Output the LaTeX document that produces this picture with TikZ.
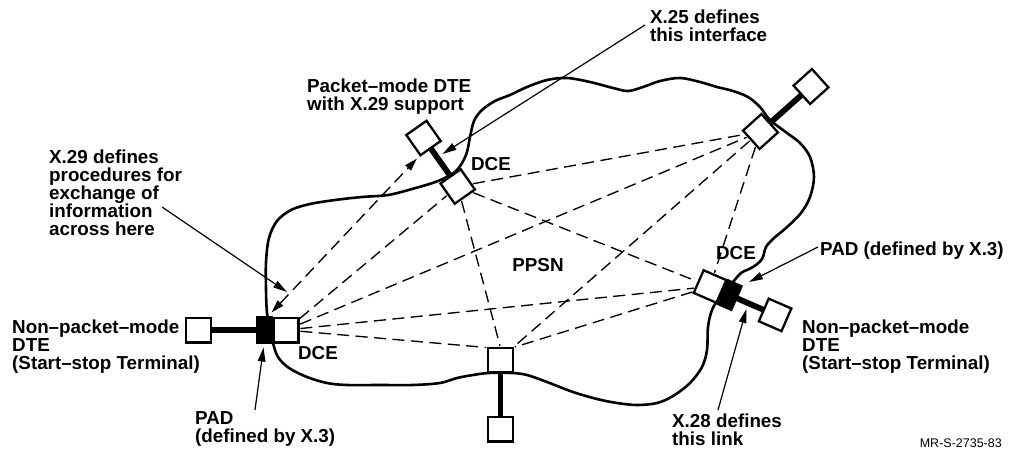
\documentclass[tikz,border=0pt]{standalone}
\usepackage{fontspec}
\setmainfont{Liberation Sans}
\usetikzlibrary{arrows.meta}
\pgfdeclarelayer{bg}
\pgfsetlayers{bg,main}
\begin{document}
\begin{tikzpicture}[x=1pt,y=-1pt,
  box/.style={draw,line width=2.3pt,fill=white,minimum width=24.7pt,minimum height=24.7pt,inner sep=0pt,outer sep=0pt},
  padbox/.style={draw,line width=2.3pt,fill=black,minimum width=14.7pt,minimum height=25.7pt,inner sep=0pt,outer sep=0pt},
  cloudline/.style={line width=2.6pt,line join=round},
  link/.style={line width=5.8pt},
  mesh/.style={line width=1.35pt,dash pattern=on 12pt off 6.5pt,shorten <=2pt,shorten >=2pt},
  lab/.style={font=\fontsize{18.8}{18}\selectfont\bfseries,align=left,inner sep=0pt,anchor=north west},
  dcelab/.style={font=\fontsize{18.8}{18}\selectfont\bfseries,inner sep=0pt,anchor=center},
  ptr/.style={line width=1.2pt,-{Triangle[length=14pt,width=7.5pt]}},
  dptr/.style={line width=1.35pt,dash pattern=on 12pt off 6.5pt,{Triangle[length=13pt,width=7.5pt]}-{Triangle[length=13pt,width=7.5pt]}},
]
\useasboundingbox (0,0) rectangle (1010,452);

% ---- boxes ----
% left group
\node[box] (Ldte) at (198.5,330) {};
\node[padbox] (Lpad) at (264.5,330) {};
\node[box] (Ldce) at (286,330) {};
% top group
\node[box,rotate=35] (Tdte) at (423.5,138) {};
\node[box,rotate=35] (Tdce) at (457.7,186.5) {};
% right top group
\node[box,rotate=42] (RTdce) at (760.5,131.5) {};
\node[box,rotate=42] (RTdte) at (811,86.5) {};
% right bottom group
\node[box,rotate=-23.5] (RBdce) at (710,286.5) {};
\node[padbox,rotate=-23.5] (RBpad) at (729.7,295.1) {};
\node[box,rotate=-23.5] (RBdte) at (775.1,314.9) {};
% middle bottom group
\node[box] (Mdce) at (500.5,360) {};
\node[box] (Mdte) at (500.5,429) {};

\begin{pgfonlayer}{bg}
\draw[cloudline] plot[smooth cycle,tension=0.55] coordinates {
 (267,313) (266,290) (266,262) (269,238) (277,221) (291,210) (310,204) (335,200)
 (362,197) (388,195) (412,189) (438,181) (456,171) (466,155) (470,137) (474,121)
 (482,110) (495,101) (510,95) (527,87) (547,80) (567,78) (590,82) (613,88)
 (628,91) (643,87) (660,81) (680,78) (700,82) (717,87) (733,91) (748,97)
 (760,107) (770,120) (787,133) (800,143) (810,157) (814,177) (810,197) (801,213)
 (786,228) (774,238) (766,247) (762,259) (753,267) (741,273) (733,282) (720,297)
 (712,310) (708,327) (707,350) (702,367) (690,383) (673,396) (657,403) (637,405)
 (617,403) (597,399) (573,392) (547,382) (527,375) (512,373) (489,373) (473,375)
 (457,378) (440,383) (413,385) (380,385) (347,385) (327,383) (307,377) (289,368)
 (278,357) (273,343) (270,328)};
% thick links
\draw[link] (Ldte) -- (Lpad);
\draw[link] (Tdte) -- (Tdce);
\draw[link] (RTdce) -- (RTdte);
\draw[link] (RBpad) -- (RBdte);
\draw[link] (Mdce) -- (Mdte);
% mesh
\draw[mesh] (Ldce) -- (Tdce);
\draw[mesh] (Ldce) -- (RTdce);
\draw[mesh] (Ldce) -- (RBdce);
\draw[mesh] (Ldce) -- (Mdce.north west);
\draw[mesh] (Tdce) -- (RTdce);
\draw[mesh] (Tdce) -- (RBdce);
\draw[mesh] (Tdce) -- (Mdce.north);
\draw[mesh] (RTdce) -- (RBdce);
\draw[mesh] (RTdce) -- (Mdce.north east);
\draw[mesh] (RBdce) -- (Mdce.north east);
\end{pgfonlayer}

% ---- labels ----
\node[lab] (x29) at (49,149.3) {X.29 defines\\procedures for\\exchange of\\information\\across here};
\node[lab] (pmdte) at (307,78.3) {Packet–mode DTE\\with X.29 support};
\node[lab] (x25) at (650,9.3) {X.25 defines\\this interface};
\node[lab] (lnp) at (12,319.3) {Non–packet–mode\\DTE\\(Start–stop Terminal)};
\node[lab] (lpadl) at (195,411.3) {PAD\\(defined by X.3)};
\node[lab] (rpadl) at (820,241.3) {PAD (defined by X.3)};
\node[lab] (rnp) at (802,319.3) {Non–packet–mode\\DTE\\(Start–stop Terminal)};
\node[lab] (x28) at (672,413.3) {X.28 defines\\this link};
\node[dcelab] (dceL) at (318,353) {DCE};
\node[dcelab] (dceT) at (491,164) {DCE};
\node[dcelab] (dceR) at (736,253) {DCE};
\node[dcelab] (ppsn) at (538,265) {PPSN};
\node[font=\fontsize{12.5}{14}\selectfont,inner sep=0pt,anchor=base east] (mr) at (1002,447) {MR-S-2735-83};

% ---- pointer arrows ----
\coordinate (x29s) at (162,207);
\coordinate (x29t) at (287,292);
\draw[ptr] (x29s) -- (x29t);
\coordinate (dpa) at (271.5,312.5);
\coordinate (dpb) at (417,158.5);
\draw[dptr] (dpa) -- (dpb);
\coordinate (x25s) at (645,25);
\coordinate (x25t) at (442.5,154);
\draw[ptr] (x25s) -- (x25t);
\coordinate (lpads) at (255,410);
\coordinate (lpadt) at (263.5,347.5);
\draw[ptr] (lpads) -- (lpadt);
\coordinate (rpads) at (818,247);
\coordinate (rpadt) at (749,282);
\draw[ptr] (rpads) -- (rpadt);
\coordinate (x28s) at (718,410);
\coordinate (x28t) at (746.5,309);
\draw[ptr] (x28s) -- (x28t);
\end{tikzpicture}
\end{document}
